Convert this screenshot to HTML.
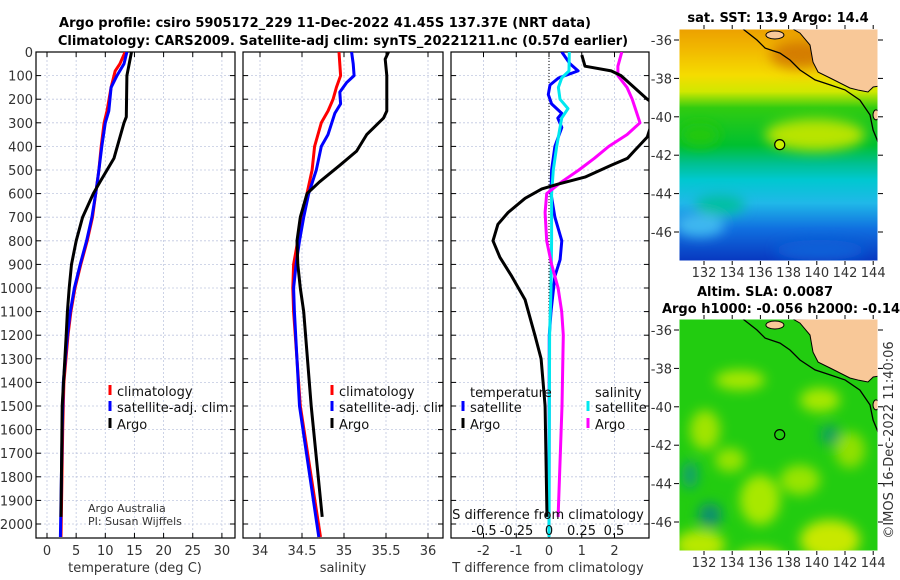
<!DOCTYPE html>
<html><head><meta charset="utf-8"><style>
body{margin:0;background:#fff;}
svg{display:block;font-family:"DejaVu Sans","Liberation Sans",sans-serif;}
.tk{font-size:13px;fill:#333;}
.ttl{font-size:13px;font-weight:bold;fill:#000;}
.lg{font-size:13px;fill:#111;}
</style></head><body>
<svg id="fig" width="900" height="580" viewBox="0 0 900 580">
<defs>
<clipPath id="c1"><rect x="36" y="52" width="199" height="486"/></clipPath>
<clipPath id="c2"><rect x="243" y="52" width="200" height="486"/></clipPath>
<clipPath id="c3"><rect x="451" y="52" width="198" height="486"/></clipPath>
<clipPath id="cm1"><rect x="679" y="29" width="199" height="232"/></clipPath>
<clipPath id="cm2"><rect x="679" y="319" width="199" height="232"/></clipPath>
<linearGradient id="sstg" x1="0" y1="0" x2="0" y2="1">
<stop offset="0" stop-color="#eca000"/><stop offset="0.1" stop-color="#f2bc00"/>
<stop offset="0.2" stop-color="#f5dc00"/><stop offset="0.27" stop-color="#d0e800"/>
<stop offset="0.34" stop-color="#30cc10"/><stop offset="0.5" stop-color="#00c030"/>
<stop offset="0.58" stop-color="#00c090"/><stop offset="0.65" stop-color="#00c8d0"/>
<stop offset="0.75" stop-color="#20b8e8"/><stop offset="0.86" stop-color="#1070e0"/>
<stop offset="1" stop-color="#0838c0"/></linearGradient>
<filter id="blur"><feGaussianBlur stdDeviation="6"/></filter>
</defs>
<g>
<text class="ttl" x="325" y="27" text-anchor="middle">Argo profile: csiro 5905172_229 11-Dec-2022 41.45S 137.37E (NRT data)</text>
<text class="ttl" x="343" y="45" text-anchor="middle">Climatology: CARS2009. Satellite-adj clim: synTS_20221211.nc (0.57d earlier)</text>
</g>
<g id="root"></g>
<text class="tk" x="88" y="512" style="font-size:11px">Argo Australia</text>
<text class="tk" x="88" y="525" style="font-size:11px">PI: Susan Wijffels</text>
<text class="tk" x="0" y="0" transform="translate(893,440) rotate(-90)" text-anchor="middle">©IMOS 16-Dec-2022 11:40:06</text>
<text class="ttl" x="778" y="22" text-anchor="middle">sat. SST: 13.9 Argo: 14.4</text>
<text class="ttl" x="765" y="296" text-anchor="middle">Altim. SLA: 0.0087</text>
<text class="ttl" x="781" y="313" text-anchor="middle">Argo h1000: -0.056 h2000: -0.14</text>
</svg>
<script>
// ---- data ----
const depthTicks=[0,100,200,300,400,500,600,700,800,900,1000,1100,1200,1300,1400,1500,1600,1700,1800,1900,2000];
const tTicks=[0,5,10,15,20,25,30];
const sTicks=[34,34.5,35,35.5,36];
const sTickLabels=['34','34.5','35','35.5','36'];
const dtTicks=[-2,-1,0,1,2];
const dsTicks=[-0.5,-0.25,0,0.25,0.5];
const dsTickLabels=['-0.5','-0.25','0','0.25','0.5'];
const tArgoD=[0,50,100,275,300,450,550,600,700,800,900,1000,1100,1200,1500,1970];
const tArgo=[14.5,14.1,13.7,13.6,13.2,11.5,9.1,7.95,6.1,5.0,4.2,3.8,3.5,3.3,2.6,2.4];
const tClimD=[0,50,80,150,250,300,400,500,600,700,800,900,1000,1100,1200,1400,1600,2055];
const tClim=[13.4,12.5,11.7,11,10.3,9.8,9.3,8.9,8.35,7.8,6.9,5.8,4.8,4.1,3.6,2.9,2.7,2.4];
const tSatD=[0,50,100,150,250,300,400,500,600,700,800,900,1000,1100,1200,1400,1600,2055];
const tSat=[13.7,13.2,12,11,10.6,10,9.4,8.9,8.35,7.7,6.8,5.7,4.7,4.0,3.5,2.8,2.6,2.3];
const sArgoD=[0,30,100,250,280,350,420,480,550,600,700,800,900,1000,1100,1500,1970];
const sArgo=[35.53,35.49,35.51,35.51,35.47,35.27,35.15,34.95,34.71,34.56,34.48,34.44,34.45,34.48,34.52,34.61,34.74];
const sClimD=[0,100,150,200,250,300,400,500,600,700,800,900,1000,1100,1500,2055];
const sClim=[34.94,34.96,34.91,34.87,34.81,34.73,34.65,34.62,34.56,34.50,34.45,34.40,34.39,34.40,34.48,34.72];
const sSatD=[0,50,100,130,170,220,260,350,400,500,600,700,800,900,1000,1100,1500,2055];
const sSat=[35.09,35.11,35.12,35.03,34.95,34.96,34.89,34.81,34.73,34.67,34.58,34.52,34.47,34.43,34.40,34.41,34.47,34.70];
const dtArgoD=[13,60,80,100,150,200,230,360,420,450,480,530,560,580,620,680,730,800,870,950,1050,1150,1200,1300,1500,1970];
const dtArgo=[1.0,1.1,1.9,2.2,2.6,3.0,3.3,3.0,2.6,2.4,1.9,1.1,0.27,-0.22,-0.73,-1.25,-1.56,-1.71,-1.5,-1.14,-0.73,-0.53,-0.43,-0.24,-0.12,-0.06];
const dtSatD=[0,50,80,110,140,180,220,260,280,320,400,500,600,700,800,880,950,1100,1200,2055];
const dtSat=[0.39,0.64,0.89,0.29,0.03,-0.02,0.08,0.39,0.27,0.39,0.18,0.08,0.06,0.18,0.39,0.34,0.18,0.06,0.01,0];
const dsSatD=[0,80,110,150,200,240,280,400,500,600,800,1000,1200,2055];
const dsSat=[0.156,0.154,0.098,0.072,0.085,0.146,0.098,0.059,0.033,0.02,0.02,0.015,0.005,0];
const dsArgoD=[0,60,100,150,200,250,300,350,400,450,500,550,600,680,800,900,1000,1100,1200,1500,1970];
const dsArgo=[0.56,0.53,0.53,0.6,0.64,0.67,0.7,0.6,0.46,0.35,0.23,0.098,-0.018,-0.03,-0.018,0.02,0.07,0.098,0.11,0.1,0.07];
const latTicks=[-36,-38,-40,-42,-44,-46];
const lonTicks=[132,134,136,138,140,142,144];
const argoLon=137.37, argoLat=-41.45;
const landLon=[138.31,138.81,139.52,139.73,140.09,140.94,142.35,143.0,143.63,144.0,144.4,144.4];
const landLat=[-35.43,-35.64,-36.26,-37.15,-37.67,-37.98,-38.5,-38.62,-38.71,-38.45,-38.4,-35.4];
const shelfLon=[134.77,135.76,136.33,137.39,138.1,138.81,139.87,140.94,142.0,143.06,143.77,143.99,144.34];
const shelfLat=[-35.43,-36.0,-36.42,-36.68,-37.04,-37.56,-38.08,-38.34,-38.6,-39.13,-39.9,-40.69,-41.31];
// ---- helpers ----
const NS='http://www.w3.org/2000/svg';
const root=document.getElementById('root');
function mk(tag,attrs,parent){const e=document.createElementNS(NS,tag);for(const k in attrs)e.setAttribute(k,attrs[k]);(parent||root).appendChild(e);return e;}
const Y0=52,YS=0.236,PB=538;
const yD=d=>Y0+d*YS;
function panel(name,x0,x1,clip,vgrid,xf){
  const g=mk('g',{});
  
  
  for(const d of depthTicks){mk('line',{x1:x0,x2:x1,y1:yD(d),y2:yD(d),stroke:'#c0c8e0','stroke-width':0.8,'stroke-dasharray':'2,2'},g);}
  for(const v of vgrid){const x=xf(v);mk('line',{x1:x,x2:x,y1:Y0,y2:PB,stroke:'#c0c8e0','stroke-width':0.8,'stroke-dasharray':'2,2'},g);}
  for(const d of depthTicks){mk('line',{x1:x0,x2:x0+5,y1:yD(d),y2:yD(d),stroke:'#000'},g);mk('line',{x1:x1-5,x2:x1,y1:yD(d),y2:yD(d),stroke:'#000'},g);}
  for(const v of vgrid){const x=xf(v);mk('line',{x1:x,x2:x,y1:PB,y2:PB-5,stroke:'#000'},g);mk('line',{x1:x,x2:x,y1:Y0,y2:Y0+5,stroke:'#000'},g);}
  mk('rect',{x:x0,y:Y0,width:x1-x0,height:PB-Y0,fill:'none',stroke:'#000','stroke-width':1.2},g);
  return g;
}
function line(name,ds,vs,xf,color,clip,w){
  let p='';for(let i=0;i<ds.length;i++){p+=(i?'L':'M')+xf(vs[i]).toFixed(1)+','+yD(ds[i]).toFixed(1);}
  const e=mk('path',{d:p,fill:'none',stroke:color,'stroke-width':w||3,'stroke-linejoin':'round','clip-path':'url(#'+clip+')'});
  
  
}
function legend(x,y,color,label,clip){
  const g=mk('g',{'clip-path':'url(#'+clip+')'});
  
  
  mk('rect',{x:x-1.5,y:y-7,width:3,height:10,fill:color},g);
  const t=mk('text',{x:x+7,y:y+4,class:'lg'},g);t.textContent=label;
}
// depth labels
const dl=mk('g',{});


for(const d of depthTicks){const t=mk('text',{x:33,y:yD(d)+5,class:'tk','text-anchor':'end'},dl);t.textContent=d;}
// panel 1
const xT=v=>47+v*5.83;
panel('temperature-panel',36,235,'c1',tTicks,xT);
tTicks.forEach(v=>{const t=mk('text',{x:xT(v),y:555,class:'tk','text-anchor':'middle'});t.textContent=v;});
mk('text',{x:135,y:572,class:'tk','text-anchor':'middle'}).textContent='temperature (deg C)';
line('temp-climatology',tClimD,tClim,xT,'#ff0000','c1');
line('temp-satellite-adj',tSatD,tSat,xT,'#0000ff','c1');
line('temp-argo',tArgoD,tArgo,xT,'#000','c1');
legend(110,392,'#ff0000','climatology','c1');legend(110,408,'#0000ff','satellite-adj. clim.','c1');legend(110,425,'#000','Argo','c1');
// panel 2
const xS=v=>260+(v-34)*84;
panel('salinity-panel',243,443,'c2',sTicks,xS);
sTicks.forEach((v,i)=>{const t=mk('text',{x:xS(v),y:555,class:'tk','text-anchor':'middle'});t.textContent=sTickLabels[i];});
mk('text',{x:343,y:572,class:'tk','text-anchor':'middle'}).textContent='salinity';
line('sal-climatology',sClimD,sClim,xS,'#ff0000','c2');
line('sal-satellite-adj',sSatD,sSat,xS,'#0000ff','c2');
line('sal-argo',sArgoD,sArgo,xS,'#000','c2');
legend(332,392,'#ff0000','climatology','c2');legend(332,408,'#0000ff','satellite-adj. clim.','c2');legend(332,425,'#000','Argo','c2');
// panel 3
const xDT=v=>549+v*32.75, xDS=v=>549+v*130;
panel('difference-panel',451,649,'c3',dtTicks,xDT);
mk('line',{x1:549,x2:549,y1:Y0,y2:PB,stroke:'#000','stroke-dasharray':'1,2'});
dtTicks.forEach(v=>{const t=mk('text',{x:xDT(v),y:555,class:'tk','text-anchor':'middle'});t.textContent=v;});
mk('text',{x:548,y:572,class:'tk','text-anchor':'middle'}).textContent='T difference from climatology';
line('dt-satellite',dtSatD,dtSat,xDT,'#0000ff','c3');
line('ds-satellite',dsSatD,dsSat,xDS,'#00e8f0','c3');
line('ds-argo',dsArgoD,dsArgo,xDS,'#ff00ff','c3');
line('dt-argo',dtArgoD,dtArgo,xDT,'#000','c3');
mk('text',{x:470,y:397,class:'lg'}).textContent='temperature';
mk('text',{x:595,y:397,class:'lg'}).textContent='salinity';
legend(463,408,'#0000ff','satellite','c3');legend(463,425,'#000','Argo','c3');
legend(588,408,'#00e8f0','satellite','c3');legend(588,425,'#ff00ff','Argo','c3');
const sdl=mk('text',{x:548,y:519,class:'lg','text-anchor':'middle'});sdl.textContent='S difference from climatology';


dsTicks.forEach((v,i)=>{const t=mk('text',{x:xDS(v),y:535,class:'lg','text-anchor':'middle'});t.textContent=dsTickLabels[i];});
// maps
const mx=lon=>704+(lon-132)*14.1;
function map(name,top,clip,kind){
  const my=lat=>top+(-36-lat)*19.2;
  const g=mk('g',{'clip-path':'url(#'+clip+')'});
  
  
  const y0=top-11,h=232;
  if(kind==='sst'){
    mk('rect',{x:679,y:y0,width:199,height:h,fill:'url(#sstg)'},g);
    const b=mk('g',{filter:'url(#blur)'},g);
    mk('ellipse',{cx:815,cy:top+95,rx:50,ry:16,fill:'#b8e400'},b);
    mk('ellipse',{cx:800,cy:top+15,rx:30,ry:14,fill:'#c86000',opacity:0.7},b);
    mk('ellipse',{cx:700,cy:top+95,rx:20,ry:12,fill:'#20c810'},b);
    mk('ellipse',{cx:720,cy:top+165,rx:25,ry:10,fill:'#00c0a0'},b);
    mk('ellipse',{cx:700,cy:top+185,rx:25,ry:12,fill:'#40b8f0'},b);
    mk('ellipse',{cx:820,cy:top+210,rx:45,ry:10,fill:'#1060d8'},b);
  } else {
    mk('rect',{x:679,y:y0,width:199,height:h,fill:'#22cc10'},g);
    const b=mk('g',{filter:'url(#blur)'},g);
    const blobs=[[740,50,25,10,'#a8e800'],[705,100,15,20,'#a0e400'],[760,170,20,25,'#a8e800'],[800,150,20,15,'#98e400'],[830,210,30,20,'#c8e800'],[700,215,25,15,'#b8e800'],[760,230,25,12,'#b8e800'],[850,120,15,18,'#90e000'],[820,70,20,12,'#a8e800'],[730,130,15,12,'#98e400']];
    for(const q of blobs)mk('ellipse',{cx:q[0],cy:top+q[1],rx:q[2],ry:q[3],fill:q[4]},b);
    const darks=[[710,185,12,12,'#109070'],[830,105,10,10,'#10a060'],[690,145,8,14,'#10a070']];
    for(const q of darks)mk('ellipse',{cx:q[0],cy:top+q[1],rx:q[2],ry:q[3],fill:q[4]},b);
  }
  let p='';for(let i=0;i<landLon.length;i++)p+=(i?'L':'M')+mx(landLon[i]).toFixed(1)+','+my(landLat[i]).toFixed(1);
  mk('path',{d:p+'Z',fill:'#f8c898',stroke:'#000','stroke-width':1},g);
  mk('ellipse',{cx:mx(137.03),cy:my(-35.74),rx:9,ry:4,fill:'#f8c898',stroke:'#000'},g);
  mk('ellipse',{cx:mx(144.2),cy:my(-39.9),rx:3,ry:5,fill:'#f8c898',stroke:'#000'},g);
  let s='';for(let i=0;i<shelfLon.length;i++)s+=(i?'L':'M')+mx(shelfLon[i]).toFixed(1)+','+my(shelfLat[i]).toFixed(1);
  mk('path',{d:s,fill:'none',stroke:'#000','stroke-width':1.3},g);
  const c=mk('circle',{cx:mx(argoLon),cy:my(argoLat),r:5,fill:kind==='sst'?'#c8f000':'none',stroke:'#000','stroke-width':1.2});
  
  
  mk('rect',{x:679,y:y0,width:199,height:h,fill:'none',stroke:'#fff','stroke-width':1});
  latTicks.forEach(v=>{const t=mk('text',{x:672,y:my(v)+5,class:'tk','text-anchor':'end'});t.textContent=v;
    mk('line',{x1:674,x2:679,y1:my(v),y2:my(v),stroke:'#000'});mk('line',{x1:878,x2:883,y1:my(v),y2:my(v),stroke:'#000'});});
  lonTicks.forEach(v=>{const t=mk('text',{x:mx(v),y:y0+h+16,class:'tk','text-anchor':'middle'});t.textContent=v;
    mk('line',{x1:mx(v),x2:mx(v),y1:y0+h,y2:y0+h+4,stroke:'#000'});mk('line',{x1:mx(v),x2:mx(v),y1:y0-4,y2:y0,stroke:'#000'});});
}
map('sst-map',40,'cm1','sst');
map('sla-map',330,'cm2','sla');
</script>
</body></html>
